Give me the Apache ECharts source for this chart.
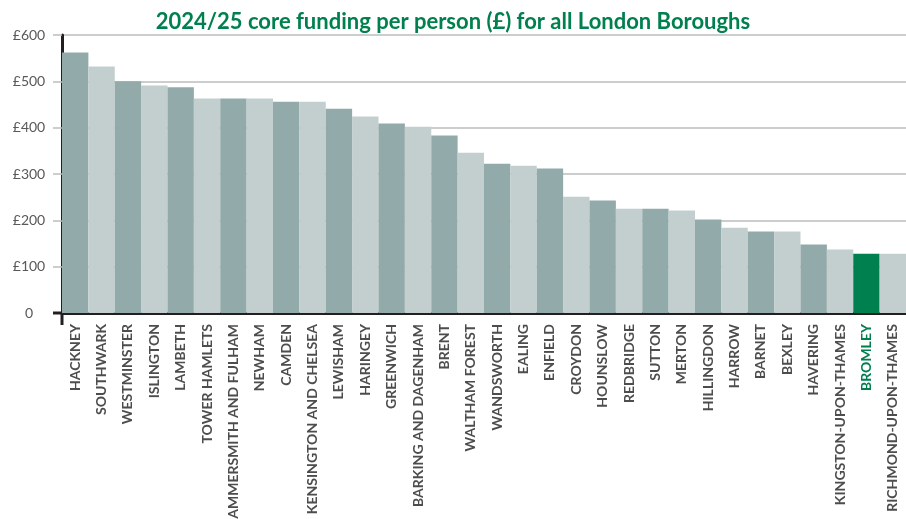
<!DOCTYPE html>
<html>
<head>
<meta charset="utf-8">
<script src="https://cdn.jsdelivr.net/npm/echarts@6/dist/echarts.min.js"></script>
<style>
    html, body {
        margin: 0;
        padding: 0;
        background: #ffffff;
    }

    #chart {
        width: 906px;
        height: 519px;
    }
</style>
</head>
<body>
<div id="chart"></div>
<script>
    // boroughs in the order shown, highest first
    const boroughs = [
        'HACKNEY', 'SOUTHWARK', 'WESTMINSTER', 'ISLINGTON', 'LAMBETH', 'TOWER HAMLETS',
        'HAMMERSMITH AND FULHAM', 'NEWHAM', 'CAMDEN', 'KENSINGTON AND CHELSEA', 'LEWISHAM',
        'HARINGEY', 'GREENWICH', 'BARKING AND DAGENHAM', 'BRENT', 'WALTHAM FOREST',
        'WANDSWORTH', 'EALING', 'ENFIELD', 'CROYDON', 'HOUNSLOW', 'REDBRIDGE', 'SUTTON',
        'MERTON', 'HILLINGDON', 'HARROW', 'BARNET', 'BEXLEY', 'HAVERING',
        'KINGSTON-UPON-THAMES', 'BROMLEY', 'RICHMOND-UPON-THAMES'
    ]
    // core funding per person, £
    const funding = [
        562, 532, 500, 491, 487, 463,
        463, 463, 456, 456, 441,
        424, 409, 402, 383, 346,
        322, 318, 312, 251, 243, 225, 225,
        221, 202, 184, 176, 176, 148,
        137, 128, 128
    ]
    const highlight = 'BROMLEY'
    const yTicks = [0, 100, 200, 300, 400, 500, 600]

    const darkBar = '#93aaaa'
    const lightBar = '#c2cfce'
    const green = '#00804e'
    const ink = '#231f20'

    let chart = echarts.init(document.getElementById('chart'))

    let option = {
        animation: false,
        title: {
            text: '2024/25 core funding per person (£) for all London Boroughs',
            left: 'center',
            top: 6,
            textStyle: {
                color: green,
                fontFamily: 'Lato',
                fontWeight: 'bold',
                fontSize: 22
            }
        },
        grid: {
            left: 62,
            right: 0,
            top: 35,
            bottom: 206,
            outerBoundsMode: 'none'
        },
        xAxis: {
            type: 'category',
            data: boroughs,
            axisLine: {
                lineStyle: {
                    color: ink,
                    width: 3
                }
            },
            axisTick: {
                show: false
            },
            axisLabel: {
                rotate: 90,
                interval: 0,
                margin: 11,
                fontFamily: 'Lato',
                fontWeight: 'bold',
                fontSize: 14,
                color: function (value) {
                    return value === highlight ? green : '#4d4d4d'
                }
            }
        },
        yAxis: {
            type: 'value',
            min: yTicks[0],
            max: yTicks[yTicks.length - 1],
            interval: 100,
            axisLine: {
                show: true,
                lineStyle: {
                    color: ink,
                    width: 3
                }
            },
            axisTick: {
                show: true,
                length: 9,
                lineStyle: {
                    color: '#bdbdbd',
                    width: 1.5
                }
            },
            splitLine: {
                lineStyle: {
                    color: '#bdbdbd',
                    width: 1.5
                }
            },
            axisLabel: {
                margin: 33,
                align: 'center',
                fontFamily: 'Lato',
                fontSize: 14,
                color: '#595959',
                formatter: function (v) {
                    return v === 0 ? '0' : '£' + v
                }
            }
        },
        series: [
            {
                type: 'bar',
                barCategoryGap: 0,
                data: funding.map(function (v, i) {
                    let c = boroughs[i] === highlight ? green : (i % 2 === 0 ? darkBar : lightBar)
                    return {value: v, itemStyle: {color: c}}
                })
            }
        ]
    }
    chart.setOption(option)

    // axis stubs crossing at the origin
    let zero = chart.convertToPixel({gridIndex: 0}, [0, 0])
    let origin = chart.convertToPixel({xAxisIndex: 0, yAxisIndex: 0}, [boroughs[0], 0])
    chart.setOption({
        graphic: [
            {
                type: 'line',
                z: 100,
                shape: {x1: 53, y1: origin[1], x2: 62, y2: origin[1]},
                style: {stroke: ink, lineWidth: 3}
            },
            {
                type: 'line',
                z: 100,
                shape: {x1: 62, y1: origin[1], x2: 62, y2: origin[1] + 12},
                style: {stroke: ink, lineWidth: 3}
            }
        ]
    })
</script>
</body>
</html>
